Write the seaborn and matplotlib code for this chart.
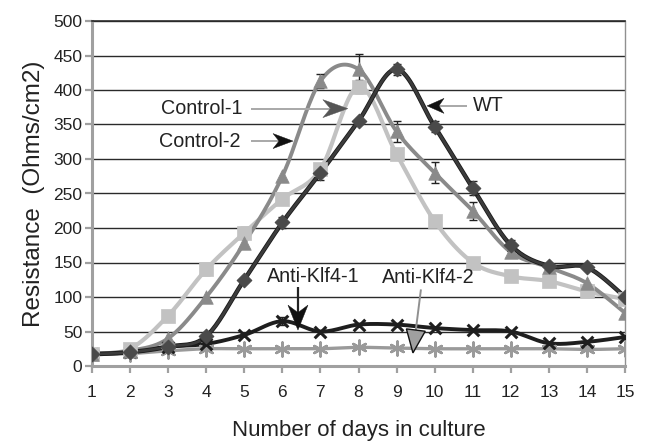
import numpy as np
import pandas as pd
import matplotlib
matplotlib.use("Agg")
import matplotlib.pyplot as plt
from matplotlib.patches import Polygon
import seaborn as sns

days = list(range(1, 16))
wt = [17, 20, 28, 43, 125, 208, 280, 355, 430, 347, 258, 175, 145, 143, 100]
wt_err = [0, 0, 0, 0, 0, 8, 10, 0, 8, 8, 10, 8, 0, 0, 0]
control1 = [18, 25, 73, 140, 193, 242, 285, 405, 307, 210, 150, 130, 123, 108, 97]
control1_err = [0, 0, 0, 8, 8, 0, 0, 10, 0, 0, 0, 0, 0, 0, 0]
control2 = [18, 22, 40, 100, 178, 275, 413, 430, 340, 280, 225, 165, 143, 120, 77]
control2_err = [0, 0, 0, 0, 0, 0, 10, 22, 15, 15, 13, 0, 0, 0, 0]
klf4_1 = [17, 20, 28, 32, 45, 65, 50, 60, 60, 55, 52, 50, 33, 35, 42]
klf4_1_err = [0, 0, 0, 0, 0, 6, 0, 0, 0, 0, 0, 0, 0, 0, 0]
klf4_2 = [17, 18, 22, 25, 25, 25, 25, 27, 26, 25, 25, 25, 25, 24, 25]
yticks = list(range(0, 501, 50))

sns.set_theme(style="white")
plt.rcParams['font.family'] = ['Liberation Sans', 'DejaVu Sans']

fig = plt.figure(figsize=(6.5, 4.41), dpi=100)
ax = fig.add_axes([92 / 650, 1 - 366 / 441, 533 / 650, 345 / 441])
ax.set_xlim(1, 15)
ax.set_ylim(0, 500)

def smooth(x, y, n=20):
    x = np.asarray(x, float); y = np.asarray(y, float)
    P = np.column_stack([x, y])
    out = []
    for i in range(len(P) - 1):
        p0 = P[max(i - 1, 0)]; p1 = P[i]; p2 = P[i + 1]; p3 = P[min(i + 2, len(P) - 1)]
        c1 = p1 + (p2 - p0) / 6.0
        c2 = p2 - (p3 - p1) / 6.0
        t = np.linspace(0, 1, n, endpoint=(i == len(P) - 2))[:, None]
        b = (1 - t) ** 3 * p1 + 3 * (1 - t) ** 2 * t * c1 + 3 * (1 - t) * t ** 2 * c2 + t ** 3 * p2
        out.append(b)
    B = np.vstack(out)
    return B[:, 0], B[:, 1]

series = [
    ("Anti-Klf4-2", klf4_2, None, "#9a9a9a", (6, 2, 0), 100, 2.4, "#9a9a9a", 1.8),
    ("Anti-Klf4-1", klf4_1, klf4_1_err, "#1e1e1e", "x", 70, 2.8, "#1e1e1e", 2.2),
    ("Control-1", control1, control1_err, "#c2c2c2", "s", 90, 3.0, "#c2c2c2", 0.5),
    ("Control-2", control2, control2_err, "#8a8a8a", "^", 95, 2.8, "#8a8a8a", 0.5),
    ("WT", wt, wt_err, "#3c3c3c", "D", 55, 2.0, "#4a4a4a", 0.8),
]

for name, vals, err, col, mk, ms, lw, mcol, mlw in series:
    sx, sy = smooth(days, vals)
    if name == "WT":
        ax.plot(sx, sy, color="#1a1a1a", lw=lw + 1.2, zorder=3, solid_capstyle="round")
    ax.plot(sx, sy, color=col, lw=lw, zorder=3, solid_capstyle="round")
    if err is not None:
        e = np.asarray(err, float)
        m = e > 0
        ax.errorbar(np.asarray(days)[m], np.asarray(vals)[m], yerr=e[m], fmt="none",
                    ecolor="#222222", elinewidth=1.0, capsize=3, capthick=1.0, zorder=4)
    df = pd.DataFrame({"day": days, "val": vals})
    if mk in ("x", (6, 2, 0)):
        sns.scatterplot(data=df, x="day", y="val", marker=mk, s=ms, color=mcol,
                        linewidth=mlw, ax=ax, zorder=5, legend=False)
    else:
        sns.scatterplot(data=df, x="day", y="val", marker=mk, s=ms, color=mcol,
                        edgecolor=mcol, linewidth=mlw, ax=ax, zorder=5, legend=False)

ax.set_xlim(1, 15)
ax.set_ylim(0, 500)
ax.set_xticks(days)
ax.set_yticks(yticks)
for yv in yticks[1:]:
    ax.axhline(yv, color="#2a2a2a", lw=1.0, zorder=1)

for s in ["left", "bottom"]:
    ax.spines[s].set_color("#a0a0a0")
    ax.spines[s].set_linewidth(2.2)
ax.spines["right"].set_color("#909090")
ax.spines["right"].set_linewidth(1.0)
ax.spines["top"].set_color("#2a2a2a")
ax.spines["top"].set_linewidth(1.2)
ax.tick_params(axis="both", which="major", direction="out", length=5, width=1.6,
               color="#a0a0a0", labelsize=12.5, labelcolor="#222222", left=True, bottom=True)
ax.tick_params(axis="x", pad=9)
ax.tick_params(axis="y", pad=2)
ax.set_xlabel("Number of days in culture", fontsize=16, color="#222222", labelpad=14)
ax.set_ylabel("Resistance  (Ohms/cm2)", fontsize=17.5, color="#222222", labelpad=6)

def px2data(pt):
    return ax.transData.inverted().transform(pt)

def arrow(tail, tip, shaft_col, head_col, head_edge=None, hl=17, hw=15, notch=0.3, slw=1.4):
    tipd = ax.transData.transform(tip)
    taild = ax.transData.transform(tail)
    v = tipd - taild
    v = v / np.linalg.norm(v)
    nrm = np.array([-v[1], v[0]])
    base = tipd - v * hl
    end = px2data(base + v * hl * notch)
    ax.plot([tail[0], end[0]], [tail[1], end[1]],
            color=shaft_col, lw=slw, zorder=6, solid_capstyle="butt")
    pts = [tipd, base + nrm * hw / 2, base + v * hl * notch, base - nrm * hw / 2]
    pts = [px2data(p) for p in pts]
    ax.add_patch(Polygon(pts, closed=True, fc=head_col,
                         ec=head_edge if head_edge else head_col,
                         lw=1.0 if head_edge else 0.3, zorder=7))

fs = 14.2
ax.text(3.87, 373, "Control-1", fontsize=fs, ha="center", va="center", color="#222222", zorder=8)
arrow((5.17, 373), (7.72, 373), "#a8a8a8", "#555555", hl=25, hw=18)
ax.text(3.84, 326, "Control-2", fontsize=fs, ha="center", va="center", color="#222222", zorder=8)
arrow((5.17, 326), (6.28, 326), "#a8a8a8", "#111111", hl=20, hw=15)
ax.text(11.40, 377, "WT", fontsize=fs, ha="center", va="center", color="#222222", zorder=8)
arrow((10.85, 377), (9.80, 377), "#a8a8a8", "#111111", hl=17, hw=15)
ax.text(6.80, 129, "Anti-Klf4-1", fontsize=fs, ha="center", va="center", color="#222222", zorder=8)
arrow((6.41, 114), (6.41, 52), "#222222", "#111111", hl=25, hw=20, slw=1.6)
ax.text(9.84, 128, "Anti-Klf4-2", fontsize=fs, ha="center", va="center", color="#222222", zorder=8)
arrow((9.64, 111), (9.43, 19), "#909090", "#a0a0a0", head_edge="#111111", hl=23, hw=19, notch=0.0)

fig.savefig("out.png", dpi=100)
